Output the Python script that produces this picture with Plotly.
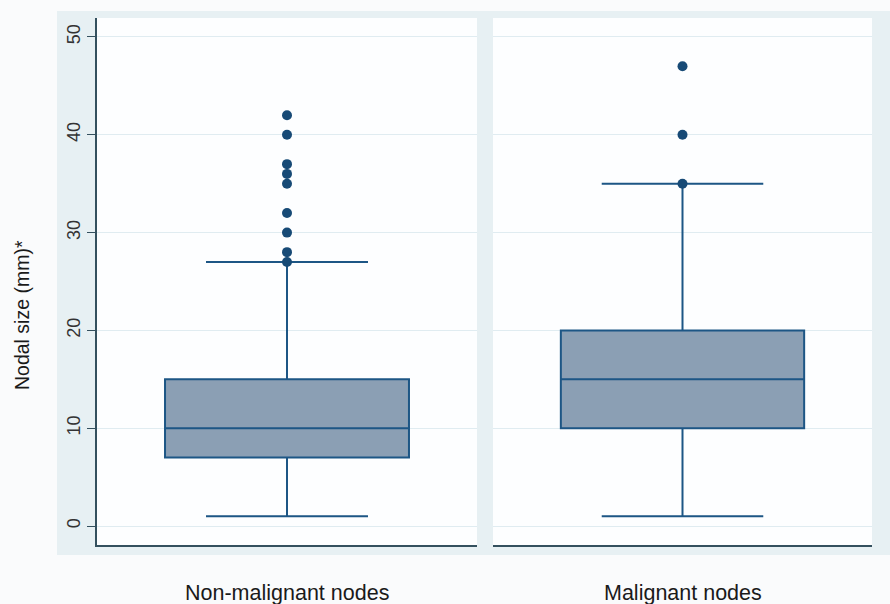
import plotly.graph_objects as go
from plotly.subplots import make_subplots

# ---- data ----
groups = ["Non-malignant nodes", "Malignant nodes"]
q1 = [7, 10]
median = [10, 15]
q3 = [15, 20]
lower_whisker = [1, 1]
upper_whisker = [27, 35]
outliers_nonmalignant = [27, 28, 30, 32, 35, 36, 37, 40, 42]
outliers_malignant = [35, 40, 47]
outliers = [outliers_nonmalignant, outliers_malignant]
y_ticks = [0, 10, 20, 30, 40, 50]
y_title = "Nodal size (mm)*"

W, H = 890, 604
def px_x(v): return v / W
def px_y(v): return 1 - v / H

LINE = "#1d5685"
FILL = "#8b9fb4"
DOT = "#174a76"
AXIS = "#34505e"
GRID = "#e0ecf1"
FRAME = "#e7f0f3"
PLOTBG = "#fdfeff"
PAPER = "#fafbfc"

fig = make_subplots(rows=1, cols=2, shared_yaxes=True, horizontal_spacing=0.02)

for i in range(2):
    col = i + 1
    fig.add_trace(go.Box(
        x=[0], q1=[q1[i]], median=[median[i]], q3=[q3[i]],
        lowerfence=[lower_whisker[i]], upperfence=[upper_whisker[i]],
        width=0.642, whiskerwidth=0.664, boxpoints=False,
        fillcolor=FILL, line=dict(color=LINE, width=2),
        hoverinfo="skip", showlegend=False, name=groups[i],
    ), row=1, col=col)
    fig.add_trace(go.Scatter(
        x=[0] * len(outliers[i]), y=outliers[i], mode="markers",
        marker=dict(color=DOT, size=10, line=dict(width=0)),
        hoverinfo="skip", showlegend=False,
    ), row=1, col=col)

x_domains = [[97 / W, 477 / W], [493 / W, 872 / W]]
y_domain = [px_y(545), px_y(18)]

for i in range(2):
    xa = "xaxis" if i == 0 else "xaxis2"
    ya = "yaxis" if i == 0 else "yaxis2"
    fig.layout[xa].update(
        domain=x_domains[i], range=[-0.5, 0.5], showline=True, linecolor=AXIS,
        linewidth=1.5, showticklabels=False, ticks="", showgrid=False, zeroline=False,
    )
    fig.layout[ya].update(
        domain=y_domain, range=[-1.94, 51.94], tickvals=y_ticks,
        showgrid=True, gridcolor=GRID, gridwidth=1, zeroline=False,
    )

fig.layout.yaxis.update(
    showline=True, linecolor=AXIS, linewidth=1.5, ticks="outside", ticklen=8,
    tickwidth=1.2, tickcolor=AXIS, tickangle=-90,
    tickfont=dict(family="Liberation Sans, Arial", size=18, color="#333333"),
)
fig.layout.yaxis2.update(showticklabels=False, ticks="", showline=False)

shapes = [
    dict(type="rect", xref="paper", yref="paper", x0=px_x(57), x1=1.0,
         y0=px_y(555), y1=px_y(11), fillcolor=FRAME, line=dict(width=0), layer="below"),
]
for d in x_domains:
    shapes.append(dict(type="rect", xref="paper", yref="paper", x0=d[0], x1=d[1],
                       y0=y_domain[0], y1=y_domain[1], fillcolor=PLOTBG,
                       line=dict(width=0), layer="below"))

annotations = []
for i in range(2):
    annotations.append(dict(
        text=groups[i], xref="paper", yref="paper",
        x=(x_domains[i][0] + x_domains[i][1]) / 2, y=px_y(593),
        xanchor="center", yanchor="middle", showarrow=False,
        font=dict(family="Liberation Sans, Arial", size=21.5, color="#1a1a1a"),
    ))
annotations.append(dict(
    text=y_title, xref="paper", yref="paper", x=px_x(22), y=px_y(315),
    xanchor="center", yanchor="middle", textangle=-90, showarrow=False,
    font=dict(family="Liberation Sans, Arial", size=19.5, color="#1a1a1a"),
))

fig.update_layout(
    width=W, height=H, margin=dict(l=0, r=0, t=0, b=0),
    paper_bgcolor=PAPER, plot_bgcolor="rgba(0,0,0,0)",
    shapes=shapes, annotations=annotations, showlegend=False,
)

fig.write_html(
    "out.html",
    config={"displayModeBar": False},
    post_script="document.body.style.margin='0';document.body.style.overflow='hidden';",
)
